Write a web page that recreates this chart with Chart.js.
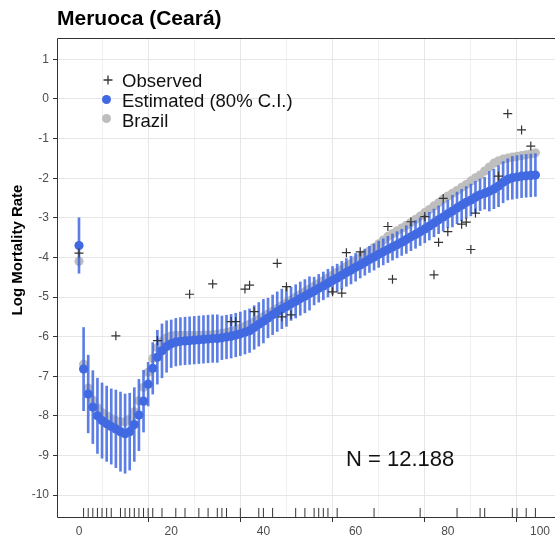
<!DOCTYPE html>
<html>
<head>
<meta charset="utf-8">
<script src="https://cdn.jsdelivr.net/npm/chart.js@4"></script>
<style>
  html, body { margin: 0; padding: 0; background: #fff; }
  #wrap { width: 555px; height: 542px; }
</style>
</head>
<body>
<div id="wrap"><canvas id="mortality" width="555" height="542"></canvas></div>
<script>
const FONT = "'Liberation Sans', Arial, Helvetica, sans-serif";

const titleText = "Meruoca (Ceará)";
const yTitle = "Log Mortality Rate";
const legendLabels = ["Observed", "Estimated (80% C.I.)", "Brazil"];
const noteText = "N = 12.188";

// estimated log rate by age 0..99
const estimated = [
  -3.70, -6.82, -7.45, -7.78, -8.00, -8.12, -8.20, -8.27, -8.33, -8.40,
  -8.45, -8.40, -8.22, -7.98, -7.63, -7.20, -6.80, -6.52, -6.36, -6.25,
  -6.18, -6.14, -6.12, -6.11, -6.10, -6.09, -6.08, -6.07, -6.06, -6.05,
  -6.05, -6.03, -6.01, -5.99, -5.96, -5.93, -5.89, -5.85, -5.77, -5.69,
  -5.61, -5.53, -5.45, -5.37, -5.30, -5.24, -5.17, -5.11, -5.04, -4.98,
  -4.91, -4.85, -4.78, -4.72, -4.65, -4.58, -4.52, -4.45, -4.38, -4.32,
  -4.25, -4.19, -4.12, -4.05, -3.99, -3.92, -3.86, -3.80, -3.74, -3.68,
  -3.62, -3.55, -3.48, -3.42, -3.35, -3.28, -3.21, -3.13, -3.05, -2.98,
  -2.90, -2.83, -2.75, -2.68, -2.61, -2.55, -2.48, -2.42, -2.38, -2.33,
  -2.27, -2.20, -2.10, -2.03, -1.99, -1.97, -1.95, -1.94, -1.93, -1.92
];

// half width of the 80% interval
const ciHalf = [
  0.70, 1.05, 0.98, 0.92, 0.95, 0.95, 0.95, 0.95, 0.98, 1.00,
  1.00, 0.97, 0.93, 0.90, 0.78, 0.55, 0.65, 0.68, 0.68, 0.65,
  0.60, 0.60, 0.60, 0.60, 0.60, 0.60, 0.60, 0.60, 0.60, 0.60,
  0.60, 0.55, 0.55, 0.55, 0.55, 0.55, 0.55, 0.55, 0.55, 0.55,
  0.55, 0.50, 0.50, 0.50, 0.50, 0.50, 0.42, 0.42, 0.42, 0.42,
  0.42, 0.35, 0.35, 0.35, 0.35, 0.35, 0.35, 0.35, 0.35, 0.35,
  0.35, 0.33, 0.33, 0.33, 0.33, 0.33, 0.33, 0.33, 0.33, 0.33,
  0.33, 0.35, 0.35, 0.35, 0.35, 0.35, 0.35, 0.35, 0.35, 0.35,
  0.35, 0.40, 0.40, 0.40, 0.40, 0.40, 0.40, 0.40, 0.40, 0.50,
  0.50, 0.52, 0.52, 0.52, 0.54, 0.54, 0.54, 0.54, 0.54, 0.54
];

// national reference schedule
const brazil = [
  -4.10, -6.70, -7.30, -7.60, -7.80, -7.92, -8.00, -8.07, -8.12, -8.15,
  -8.15, -8.08, -7.90, -7.62, -7.28, -6.90, -6.55, -6.28, -6.12, -6.03,
  -5.98, -5.97, -5.97, -5.97, -5.97, -5.97, -5.97, -5.96, -5.96, -5.95,
  -5.94, -5.92, -5.90, -5.87, -5.83, -5.79, -5.74, -5.69, -5.63, -5.57,
  -5.50, -5.43, -5.36, -5.29, -5.22, -5.15, -5.08, -5.01, -4.94, -4.87,
  -4.80, -4.73, -4.66, -4.59, -4.52, -4.45, -4.38, -4.31, -4.23, -4.16,
  -4.08, -4.00, -3.92, -3.84, -3.75, -3.66, -3.56, -3.47, -3.40, -3.33,
  -3.26, -3.19, -3.12, -3.04, -2.96, -2.87, -2.79, -2.70, -2.62, -2.53,
  -2.45, -2.38, -2.31, -2.23, -2.16, -2.07, -1.99, -1.92, -1.82, -1.72,
  -1.62, -1.56, -1.52, -1.49, -1.47, -1.45, -1.43, -1.41, -1.39, -1.36
];

// observed log rates (ages with deaths)
const obsAges = [0, 8, 17, 24, 29, 33, 34, 36, 37, 38, 43, 44, 45, 46, 55, 57, 58, 61,
  67, 68, 72, 75, 77, 78, 79, 80, 83, 84, 85, 86, 91, 93, 96, 98];
const obsValues = [-3.89, -5.98, -6.10, -4.93, -4.67, -5.62, -5.62, -4.80, -4.70, -5.37,
  -4.15, -5.50, -4.74, -5.45, -4.87, -4.90, -3.88, -3.86, -3.22, -4.55, -3.10, -2.97,
  -4.44, -3.62, -2.51, -3.35, -3.16, -3.11, -3.80, -2.88, -1.95, -0.37, -0.78, -1.19];

// ages with zero observed deaths (rug)
const zeroAges = [1, 2, 3, 4, 5, 6, 7, 9, 10, 11, 12, 13, 14, 15, 16, 18, 21, 23, 26, 28,
  30, 31, 32, 35, 39, 40, 42, 47, 49, 51, 52, 53, 54, 56, 64, 74, 82, 87, 88, 94, 95, 97, 99];

const xTicks = [0, 10, 20, 30, 40, 50, 60, 70, 80, 90, 100];
const yTicks = [-10, -9, -8, -7, -6, -5, -4, -3, -2, -1, 0, 1];

const BLUE = "#4169e1";
const GREY = "#bebebe";

const decor = {
  id: "decor",
  beforeDraw(chart) {
    const c = chart.ctx;
    c.save();
    c.fillStyle = "#fff";
    c.fillRect(0, 0, chart.width, chart.height);
    c.restore();
  },
  afterDraw(chart) {
    const c = chart.ctx;
    const a = chart.chartArea;
    c.save();
    // panel border
    c.strokeStyle = "#333";
    c.lineWidth = 1;
    c.beginPath();
    c.moveTo(a.right, a.top + 0.5);
    c.lineTo(a.left + 0.5, a.top + 0.5);
    c.lineTo(a.left + 0.5, a.bottom - 0.5);
    c.lineTo(a.right, a.bottom - 0.5);
    c.stroke();

    // title
    c.fillStyle = "#000";
    c.font = "bold 21px " + FONT;
    c.textAlign = "left";
    c.textBaseline = "alphabetic";
    c.fillText(titleText, 57, 25);

    // y title
    c.save();
    c.translate(17.5, 250);
    c.rotate(-Math.PI / 2);
    c.font = "bold 15px " + FONT;
    c.textAlign = "center";
    c.textBaseline = "middle";
    c.fillText(yTitle, 0, 0);
    c.restore();

    // legend
    c.strokeStyle = "#333";
    c.lineWidth = 1.3;
    c.beginPath();
    c.moveTo(103.5, 80); c.lineTo(112.5, 80);
    c.moveTo(108, 75.5); c.lineTo(108, 84.5);
    c.stroke();
    c.fillStyle = BLUE;
    c.beginPath(); c.arc(106.5, 99.5, 4.5, 0, Math.PI * 2); c.fill();
    c.fillStyle = GREY;
    c.beginPath(); c.arc(106.5, 118.5, 4.5, 0, Math.PI * 2); c.fill();
    c.fillStyle = "#111";
    c.font = "18.5px " + FONT;
    c.textBaseline = "alphabetic";
    c.fillText(legendLabels[0], 122, 86.5);
    c.fillText(legendLabels[1], 122, 106.5);
    c.fillText(legendLabels[2], 122, 126.5);

    // sample size note
    c.font = "22px " + FONT;
    c.fillText(noteText, 346, 466);
    c.restore();
  }
};

const ages = estimated.map((v, i) => i);

new Chart(document.getElementById("mortality"), {
  type: "scatter",
  data: {
    datasets: [
      {
        label: "Observed",
        data: obsAges.map((a, i) => ({ x: a, y: obsValues[i] })),
        pointStyle: "cross",
        pointRadius: 4.5,
        borderColor: "#333",
        borderWidth: 1.2,
        backgroundColor: "#333",
        order: 0
      },
      {
        label: "zero",
        data: zeroAges.map(a => ({ x: a, y: -10.44 })),
        pointStyle: "line",
        rotation: 90,
        pointRadius: 4.5,
        borderColor: "#333",
        borderWidth: 1,
        order: 0
      },
      {
        label: "Estimated",
        data: ages.map(a => ({ x: a, y: estimated[a] })),
        pointRadius: 4.6,
        backgroundColor: BLUE,
        borderWidth: 0,
        order: 1
      },
      {
        type: "bar",
        label: "CI",
        data: ages.map(a => ({ x: a, y: [estimated[a] - ciHalf[a], estimated[a] + ciHalf[a]] })),
        backgroundColor: "rgba(65,105,225,0.85)",
        borderWidth: 0,
        barThickness: 2,
        grouped: false,
        order: 2
      },
      {
        label: "Brazil",
        data: ages.map(a => ({ x: a, y: brazil[a] })),
        pointRadius: 4.6,
        backgroundColor: GREY,
        borderWidth: 0,
        order: 3
      }
    ]
  },
  options: {
    responsive: false,
    animation: false,
    layout: { autoPadding: false, padding: { top: 38, left: 0, right: 0, bottom: 0 } },
    plugins: {
      legend: { display: false },
      tooltip: { enabled: false },
      title: { display: false }
    },
    scales: {
      x: {
        type: "linear",
        offset: false,
        min: -4.77,
        max: 103.25,
        afterBuildTicks: s => { s.ticks = xTicks.map(v => ({ value: v })); },
        afterFit: s => { s.height = 24; s.paddingLeft = 0; s.paddingRight = 0; },
        border: { display: false },
        grid: {
          color: ctx => (ctx.tick && ctx.tick.value % 20 === 0 ? "#e6e6e6" : "#f0f0f0"),
          tickColor: ctx => (ctx.tick && ctx.tick.value % 20 === 0 ? "#333" : "rgba(0,0,0,0)"),
          tickLength: 4,
          lineWidth: 1
        },
        ticks: {
          color: "#4d4d4d",
          font: { family: FONT, size: 12 },
          padding: 2,
          maxRotation: 0,
          autoSkip: false,
          callback: v => (v % 20 === 0 ? String(v) : "")
        }
      },
      y: {
        type: "linear",
        min: -10.58,
        max: 1.54,
        afterBuildTicks: s => { s.ticks = yTicks.map(v => ({ value: v })); },
        afterFit: s => { s.width = 57; s.paddingTop = 0; s.paddingBottom = 0; },
        border: { display: false },
        grid: {
          color: "#e6e6e6",
          tickColor: "#333",
          tickLength: 4,
          lineWidth: 1
        },
        ticks: {
          color: "#4d4d4d",
          font: { family: FONT, size: 12 },
          padding: 4,
          autoSkip: false,
          callback: v => String(v)
        }
      }
    }
  },
  plugins: [decor]
});
</script>
</body>
</html>
